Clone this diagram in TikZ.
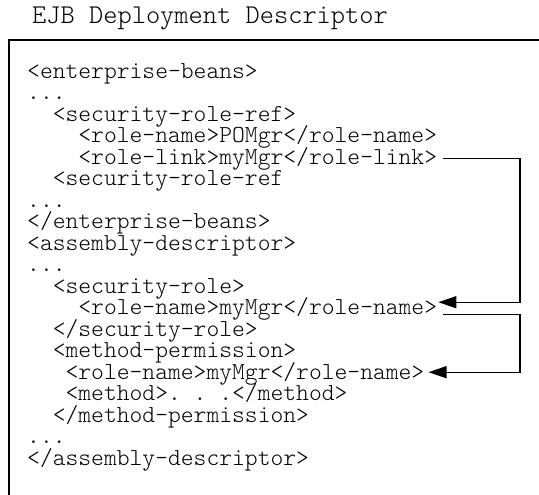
\documentclass[tikz,border=0pt]{standalone}
\usepackage{fontspec}
\setmonofont{Latin Modern Mono Light}
\usetikzlibrary{matrix,positioning,arrows.meta}

\begin{document}
\begin{tikzpicture}[x=1pt,y=-1pt]
	\tikzset{code listing/.style={
			matrix of nodes,
			inner sep=0pt,
			row sep=0pt,
			nodes={anchor=base west,
				inner sep=0pt,
				text height=15.5pt,
				text depth=6pt,
				font=\ttfamily\fontsize{24.4}{21.5}\selectfont
			},
		},
		frame/.style={line width=2pt},
		link/.style={line width=1.3pt, -{Triangle[length=18pt,width=12pt]}}
	}
	\useasboundingbox (0,0) rectangle (539,495);
	
	\node (title) [anchor=base west, inner sep=0pt,
	font=\ttfamily\fontsize{27.1}{28}\selectfont] at (32,24) {EJB Deployment Descriptor};
	\draw[frame] (9,495) -- (9,40) -- (539,40);
	
	\matrix (code) [code listing, anchor=north west] at (27,62.5)
	{
		<enterprise-beans> \\
		... \\
		\hspace*{1.05em}<security-role-ref> \\
		\hspace*{2.1em}<role-name>POMgr</role-name> \\
		\hspace*{2.1em}<role-link>myMgr</role-link> \\
		\hspace*{1.05em}<security-role-ref \\
		... \\
		</enterprise-beans> \\
		<assembly-descriptor> \\
		... \\
		\hspace*{1.05em}<security-role> \\
		\hspace*{2.1em}<role-name>myMgr</role-name> \\
		\hspace*{1.05em}</security-role> \\
		\hspace*{1.05em}<method-permission> \\
		\hspace*{1.575em}<role-name>myMgr</role-name> \\
		\hspace*{1.575em}<method>. . .</method> \\
		\hspace*{1.05em}</method-permission> \\
		... \\
		</assembly-descriptor> \\
	};
	
	\coordinate (rail) at (520,0);
	\coordinate (from1) at ([xshift=6pt,yshift=6pt]code-5-1.base east);
	\coordinate (to1) at ([xshift=1pt,yshift=12.5pt]code-12-1.base east);
	\coordinate (from2) at ([xshift=6pt,yshift=0pt]code-12-1.base east);
	\coordinate (to2) at ([xshift=4pt,yshift=7pt]code-15-1.base east);
	\draw[link] (from1) -- (from1 -| rail) |- (to1);
	\draw[link] (from2) -- (from2 -| rail) |- (to2);
	
\end{tikzpicture}
\end{document}
